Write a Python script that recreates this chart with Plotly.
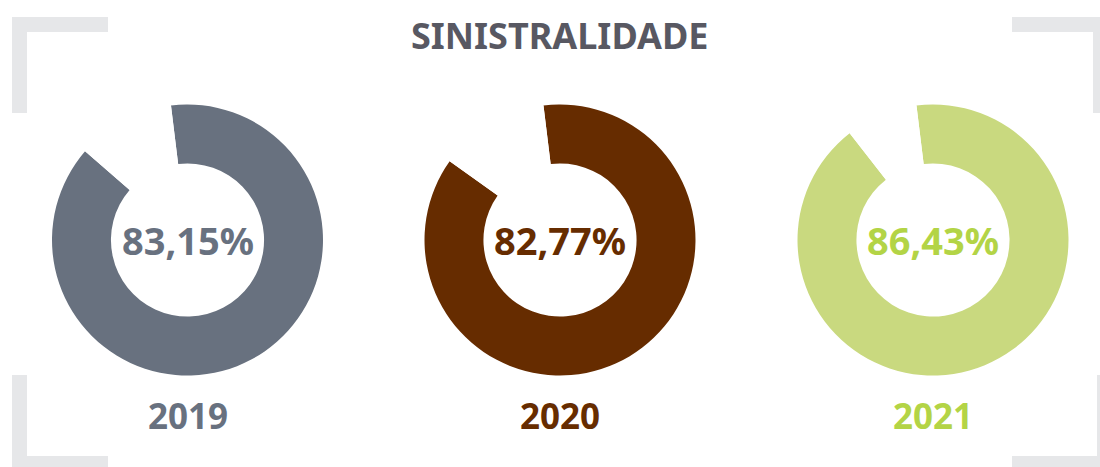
import plotly.graph_objects as go

W, H = 1100, 467

# Data
years = ["2019", "2020", "2021"]
labels_pct = ["83,15%", "82,77%", "86,43%"]
# arc share drawn in the picture (coloured part vs. gap)
arc_filled = [88.3, 86.8, 91.4]
arc_gap = [11.7, 13.2, 8.6]

ring_colors = ["#68717f", "#662c00", "#c9d97f"]
text_colors = ["#68717f", "#662c00", "#b3d446"]
title_text = "SINISTRALIDADE"

# Layout helpers (pixels -> paper)
def px_x(x):
    return x / W

def px_y(y):
    return 1 - y / H

centers_x = [187.5, 560, 933]
center_y = 240
radius = 135.5

fig = go.Figure()
for i, yr in enumerate(years):
    cx = centers_x[i]
    fig.add_trace(go.Pie(
        values=[arc_filled[i], arc_gap[i]],
        labels=["Sinistralidade", "Restante"],
        marker=dict(colors=[ring_colors[i], "#ffffff"], line=dict(width=0)),
        hole=0.565,
        sort=False,
        direction="clockwise",
        rotation=-7,
        textinfo="none",
        hoverinfo="skip",
        showlegend=False,
        domain=dict(x=[px_x(cx - radius), px_x(cx + radius)],
                    y=[px_y(center_y + radius), px_y(center_y - radius)]),
    ))

annotations = []
for i, yr in enumerate(years):
    cx = centers_x[i]
    annotations.append(dict(
        x=px_x(cx), y=px_y(center_y), xref="paper", yref="paper",
        text="<b>%s</b>" % labels_pct[i], showarrow=False,
        font=dict(family="Noto Sans", size=38, color=text_colors[i]),
        xanchor="center", yanchor="middle"))
    annotations.append(dict(
        x=px_x(cx), y=px_y(415.5), xref="paper", yref="paper",
        text="<b>%s</b>" % yr, showarrow=False,
        font=dict(family="Noto Sans", size=35, color=text_colors[i]),
        xanchor="center", yanchor="middle"))

annotations.append(dict(
    x=px_x(559), y=px_y(35), xref="paper", yref="paper",
    text="<b>%s</b>" % title_text, showarrow=False,
    font=dict(family="Noto Sans", size=36, color="#585862"),
    xanchor="center", yanchor="middle"))

# Corner brackets (decoration)
bracket_color = "#e6e7e9"
rects = [
    (12, 17, 108, 32), (12, 17, 27, 113),          # top-left
    (1012, 17, 1110, 32), (1093, 17, 1110, 113),   # top-right
    (12, 375, 27, 480), (12, 456, 108, 480),       # bottom-left
    (1097, 375, 1110, 480), (1012, 456, 1110, 480) # bottom-right
]
shapes = []
for x0, y0, x1, y1 in rects:
    shapes.append(dict(type="rect", xref="paper", yref="paper",
                       x0=px_x(x0), x1=px_x(x1), y0=px_y(y1), y1=px_y(y0),
                       fillcolor=bracket_color, line=dict(width=0), layer="below"))

fig.update_layout(
    width=W, height=H,
    margin=dict(l=0, r=0, t=0, b=0),
    paper_bgcolor="white", plot_bgcolor="white",
    annotations=annotations, shapes=shapes,
)

fig.write_html(
    "out.html",
    config={"displayModeBar": False},
    post_script="document.body.style.margin='0';document.body.style.overflow='hidden';",
)
